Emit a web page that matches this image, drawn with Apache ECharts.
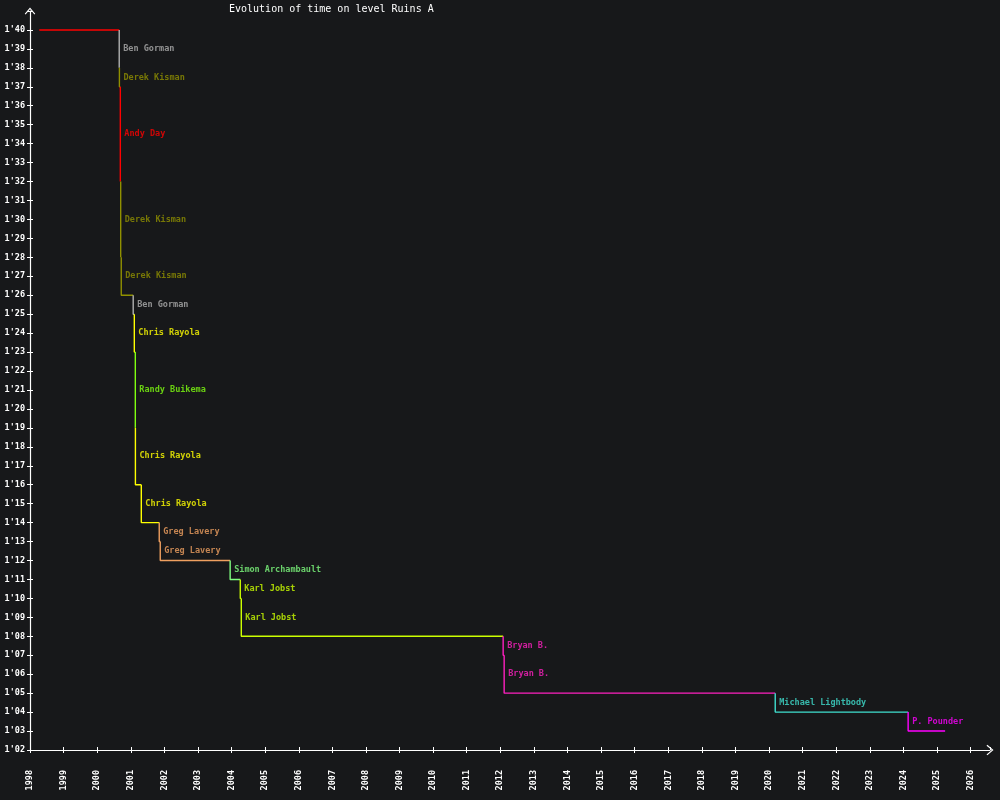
<!DOCTYPE html>
<html lang="en">

<head>
    <meta charset="utf-8">
    <title>Evolution of time on level Ruins A</title>
    <script src="https://cdn.jsdelivr.net/npm/echarts@6/dist/echarts.min.js"></script>
    <style>
        html, body { margin: 0; padding: 0; background: #17181a; }
        #main { width: 1000px; height: 800px; }
    </style>
</head>

<body>
    <div id="main"></div>
    <script>
        // record history: date the record was set, time in seconds, holder
        var recordDates = [
            '1998-04-12', '2000-08-28', '2000-08-30', '2000-09-09', '2000-09-13',
            '2000-09-19', '2001-01-27', '2001-02-08', '2001-02-19', '2001-02-20',
            '2001-04-25', '2001-11-06', '2001-11-17', '2003-12-17', '2004-04-05',
            '2004-04-16', '2012-02-01', '2012-02-12', '2020-03-08', '2024-02-21'
        ];
        var recordTimes = [
            100, 98, 97, 92, 88,
            86, 85, 83, 79, 76,
            74, 73, 72, 71, 70,
            68, 67, 65, 64, 63
        ];
        var recordHolders = [
            'Andy Day', 'Ben Gorman', 'Derek Kisman', 'Andy Day', 'Derek Kisman',
            'Derek Kisman', 'Ben Gorman', 'Chris Rayola', 'Randy Buikema', 'Chris Rayola',
            'Chris Rayola', 'Greg Lavery', 'Greg Lavery', 'Simon Archambault', 'Karl Jobst',
            'Karl Jobst', 'Bryan B.', 'Bryan B.', 'Michael Lightbody', 'P. Pounder'
        ];
        var lastDate = '2025-03-29';

        var holderColors = {
            'Andy Day': '#ff0000',
            'Ben Gorman': '#b0b0b0',
            'Derek Kisman': '#909000',
            'Chris Rayola': '#ffff00',
            'Randy Buikema': '#80ff10',
            'Greg Lavery': '#f0a060',
            'Simon Archambault': '#80ff80',
            'Karl Jobst': '#ccff00',
            'Bryan B.': '#ff20c0',
            'Michael Lightbody': '#40e0d0',
            'P. Pounder': '#ff00ff'
        };

        var font = 'DejaVu Sans Mono';
        var series = [];
        var labelData = [];

        for (var i = 0; i < recordDates.length; i++) {
            var next = i + 1 < recordDates.length ? recordDates[i + 1] : lastDate;
            var pts = [];
            if (i > 0) {
                pts.push([recordDates[i], recordTimes[i - 1]]);
                labelData.push({
                    value: [recordDates[i], (recordTimes[i - 1] + recordTimes[i]) / 2],
                    name: recordHolders[i],
                    label: { color: holderColors[recordHolders[i]] }
                });
            }
            pts.push([recordDates[i], recordTimes[i]]);
            pts.push([next, recordTimes[i]]);
            series.push({
                type: 'line',
                data: pts,
                showSymbol: false,
                silent: true,
                lineStyle: { width: 1.4, color: holderColors[recordHolders[i]] }
            });
        }

        series.push({
            type: 'scatter',
            data: labelData,
            symbolSize: 0,
            silent: true,
            label: {
                show: true,
                position: 'right',
                distance: 4,
                formatter: '{b}',
                fontFamily: font,
                fontSize: 8.5,
                fontWeight: 'bold'
            }
        });

        function fmtTime(v) {
            if (v > 100) return '';
            var s = v - 60;
            return "1'" + (s < 10 ? '0' + s : s);
        }

        var arrow = 'path://M0,7 L6,0 L12,7 L11,8 L6,2 L1,8 Z';
        var yearMs = 365 * 24 * 3600 * 1000;
        var axisX = {
            type: 'time',
            min: '1998-01-01',
            max: '2026-07-30',
            minInterval: yearMs,
            maxInterval: yearMs + 24 * 3600 * 1000,
            splitLine: { show: false }
        };
        var axisY = {
            type: 'value',
            min: 62,
            max: 101,
            interval: 1,
            splitLine: { show: false }
        };

        var myChart = echarts.init(document.getElementById('main'));
        myChart.setOption({
            backgroundColor: '#17181a',
            animation: false,
            title: {
                text: 'Evolution of time on level Ruins A',
                left: 224,
                top: -1,
                textStyle: { color: '#ffffff', fontFamily: font, fontSize: 10, fontWeight: 'normal' }
            },
            grid: { left: 30, right: 10, top: 11, bottom: 50 },
            xAxis: [
                Object.assign({}, axisX, {
                    axisLine: {
                        lineStyle: { color: '#ffffff', width: 1.2 },
                        symbol: ['none', arrow],
                        symbolSize: [12, 7]
                    },
                    axisTick: { lineStyle: { color: '#ffffff' }, length: 3 },
                    axisLabel: {
                        color: '#ffffff',
                        rotate: 90,
                        margin: 20,
                        fontFamily: font,
                        fontSize: 8.5,
                        fontWeight: 'bold',
                        formatter: '{yyyy}',
                        showMaxLabel: false
                    }
                }),
                Object.assign({}, axisX, {
                    position: 'bottom',
                    axisLine: { show: false },
                    axisTick: { inside: true, lineStyle: { color: '#ffffff' }, length: 3 },
                    axisLabel: { show: false }
                })
            ],
            yAxis: [
                Object.assign({}, axisY, {
                    axisLine: {
                        show: true,
                        lineStyle: { color: '#ffffff', width: 1.2 },
                        symbol: ['none', arrow],
                        symbolSize: [12, 7]
                    },
                    axisTick: { show: true, lineStyle: { color: '#ffffff' }, length: 3 },
                    axisLabel: {
                        color: '#ffffff',
                        margin: 5,
                        fontFamily: font,
                        fontSize: 8.5,
                        fontWeight: 'bold',
                        formatter: fmtTime
                    }
                }),
                Object.assign({}, axisY, {
                    position: 'left',
                    axisLine: { show: false },
                    axisTick: { show: true, inside: true, lineStyle: { color: '#ffffff' }, length: 3 },
                    axisLabel: { show: false }
                })
            ],
            series: series
        });
        window.onresize = myChart.resize;
    </script>
</body>

</html>
